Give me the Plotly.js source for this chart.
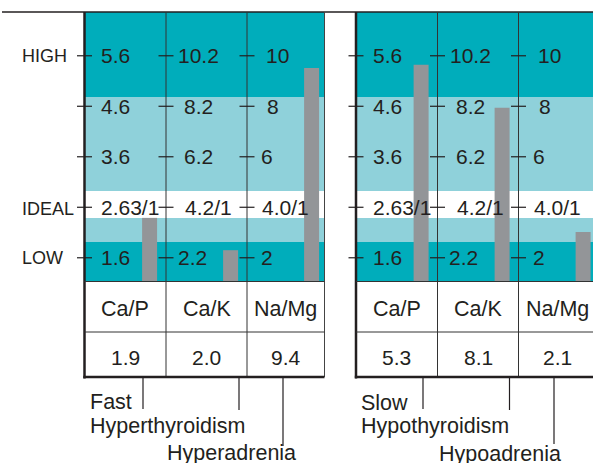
<!DOCTYPE html>
<html><head><meta charset="utf-8">
<script src="https://cdn.plot.ly/plotly-3.0.1.min.js"></script>
<style>html,body{margin:0;padding:0;background:#fff;overflow:hidden}#chart{width:593px;height:463px}</style>
</head><body><div id="chart"></div>
<script>
// ---------------- data ----------------
const ratios = ["Ca/P", "Ca/K", "Na/Mg"];
const rowNames = ["LOW", "IDEAL", "", "", "HIGH"];          // bottom -> top
const caPTicks = ["1.6", "2.63/1", "3.6", "4.6", "5.6"];
const caKTicks = ["2.2", "4.2/1", "6.2", "8.2", "10.2"];
const naMgTicks = ["2", "4.0/1", "6", "8", "10"];
const fastValues = [1.9, 2.0, 9.4];
const slowValues = [5.3, 8.1, 2.1];
// bar heights, in row units above the baseline
const fastBarHeight = [1.25, 0.61, 4.22];
const slowBarHeight = [4.28, 3.43, 0.97];
const fastNotes = ["Fast", "Hyperthyroidism", "Hyperadrenia"];
const slowNotes = ["Slow", "Hypothyroidism", "Hypoadrenia"];

// ---------------- layout helpers ----------------
const W = 593, H = 463;
const X = p => p / W;
const Y = p => 1 - p / H;
const FONT = "Liberation Sans, Arial, Helvetica, sans-serif";
const INK = "#231f20";
const DARK = "#00adbb", LIGHT = "#8fd1da", WHITE = "#ffffff", BAR = "#939598";
const rowPx = 50.5, plotTop = 12, plotBottom = 281;
const yTop = (plotBottom - plotTop) / rowPx;
const rowY = k => 0.46 + k;
const bands = [[0, 0.772, DARK], [0.772, 1.248, LIGHT], [1.248, 1.782, WHITE], [1.782, 3.644, LIGHT], [3.644, yTop, DARK]];
const tickSets = [caPTicks, caKTicks, naMgTicks];
const labelDx = [[16.5, 16.5, 16.5, 16.5, 16.5], [11.5, 19, 18, 18, 12], [14, 15, 14, 20, 19]];

const panels = [
  {xa: 'x', edges: [84.5, 166, 247], right: 324.5, domain: [X(85), X(328)], range: [-0.5, 2.5],
   values: fastValues, bars: fastBarHeight, notes: fastNotes,
   lines: [143, 239, 283], lineEnds: [409, 410, 446], notePos: [[89.5, 402], [89.5, 426], [166.5, 453]], leftLabels: true},
  {xa: 'x2', edges: [356, 437.5, 518.5], right: null, domain: [X(356.5), 1], range: [-0.5, -0.5 + (593 - 356.5) / 81],
   values: slowValues, bars: slowBarHeight, notes: slowNotes,
   lines: [423, 509.5, 554], lineEnds: [409, 410, 444], notePos: [[361, 402.5], [360.5, 426], [438.5, 453.5]], leftLabels: false}
];

const shapes = [], annotations = [];
const line = (x0, y0, x1, y1, w, c, yref) => shapes.push({type: 'line', xref: 'paper', yref: yref || 'paper',
  x0, y0, x1, y1, line: {color: c || INK, width: w}, layer: 'above'});
const txt = (text, x, y, opts) => annotations.push(Object.assign({text, x, y, xref: 'paper', yref: 'paper',
  xanchor: 'left', yanchor: 'middle', showarrow: false, borderpad: 0, borderwidth: 0,
  font: {family: FONT, size: 21.5, color: INK}}, opts || {}));

// top rule
line(X(2), Y(12), 1, Y(12), 1.5);

panels.forEach(p => {
  const left = p.edges[0];
  const right = p.right !== null ? p.right : 596;
  const rightClip = Math.min(right, 593);
  // colour bands
  bands.forEach(b => shapes.push({type: 'rect', xref: 'paper', yref: 'y', x0: X(left), x1: X(rightClip),
    y0: b[0], y1: b[1], fillcolor: b[2], line: {width: 0}, layer: 'below'}));
  // vertical rules
  line(X(left), Y(12), X(left), Y(378.5), 2.5);
  p.edges.slice(1).forEach(e => line(X(e), Y(12), X(e), Y(377), 1, "#333"));
  if (p.right !== null) line(X(right), Y(12), X(right), Y(377), 1, "#444");
  // table horizontal rules
  line(X(left), Y(281.5), X(rightClip), Y(281.5), 1, "#333");
  line(X(left), Y(332), X(rightClip), Y(332), 1, "#333");
  line(X(left - 1.2), Y(377), X(rightClip), Y(377), 2.5);
  // ticks + tick labels
  p.edges.forEach((e, c) => {
    tickSets[c].forEach((t, k) => {
      line(X(e - 7.5), rowY(k), X(e + 7.5), rowY(k), 1.2, INK, 'y');
      txt(t, X(e + labelDx[c][k]), rowY(k), {yref: 'y', font: {family: FONT, size: 21, color: INK}});
    });
  });
  // table text
  const edgesAll = p.edges.concat([right]);
  ratios.forEach((r, c) => {
    const cx = (edgesAll[c] + edgesAll[c + 1]) / 2;
    txt(r, X(cx), Y(309), {xanchor: 'center'});
    txt(p.values[c].toFixed(1), X(cx), Y(357.5), {xanchor: 'center', font: {family: FONT, size: 21, color: INK}});
  });
  // leader lines and notes
  p.lines.forEach((lx, i) => line(X(lx), Y(378), X(lx), Y(p.lineEnds[i]), 1.2));
  p.notes.forEach((n, i) => txt(n, X(p.notePos[i][0]), Y(p.notePos[i][1])));
  // row names
  if (p.leftLabels) rowNames.forEach((n, k) => {
    if (n) txt(n, X(21.5), rowY(k), {yref: 'y', yshift: n === 'IDEAL' ? -2 : 0, font: {family: FONT, size: 18, color: INK}});
  });
});

const traces = panels.map(p => ({
  type: 'bar', x: ratios, y: p.bars, xaxis: p.xa, yaxis: 'y',
  offset: 0.205, width: 0.185, marker: {color: BAR, line: {width: 0}},
  hoverinfo: 'skip', showlegend: false
}));

const hiddenX = (p) => ({domain: p.domain, range: p.range, type: 'category', categoryorder: 'array', categoryarray: ratios,
  anchor: 'y', showgrid: false, zeroline: false, showticklabels: false, ticks: '', showline: false, fixedrange: true});

const layout = {
  width: W, height: H, margin: {l: 0, r: 0, t: 0, b: 0, pad: 0},
  paper_bgcolor: '#ffffff', plot_bgcolor: 'rgba(0,0,0,0)',
  showlegend: false,
  xaxis: hiddenX(panels[0]),
  xaxis2: hiddenX(panels[1]),
  yaxis: {domain: [Y(plotBottom), Y(plotTop)], range: [0, yTop], anchor: 'x', showgrid: false, zeroline: false,
    showticklabels: false, ticks: '', showline: false, fixedrange: true},
  shapes, annotations
};

Plotly.newPlot('chart', traces, layout, {displayModeBar: false, staticPlot: true});
</script></body></html>
